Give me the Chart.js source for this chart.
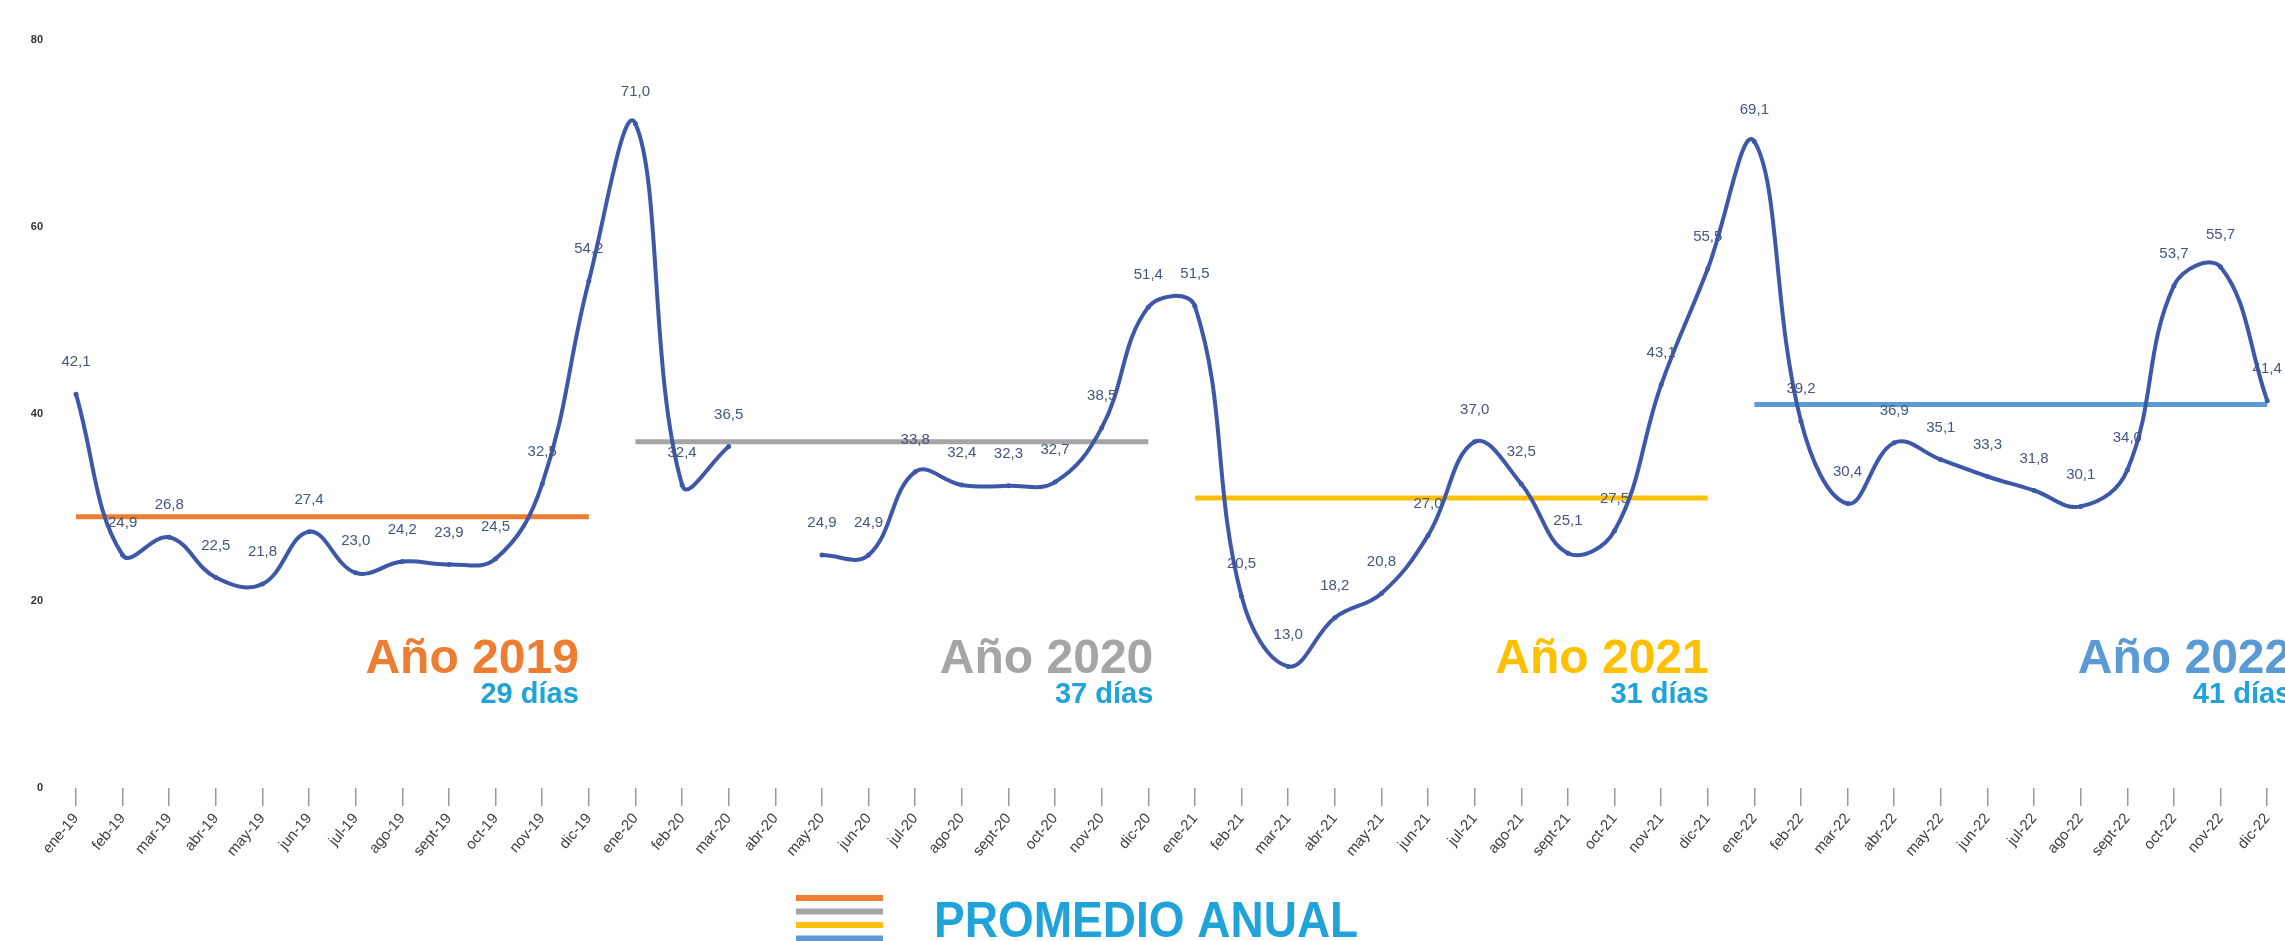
<!DOCTYPE html>
<html>
<head>
<meta charset="utf-8">
<script src="https://cdn.jsdelivr.net/npm/chart.js@4.4.1/dist/chart.umd.min.js"></script>
<style>
  html, body { margin: 0; padding: 0; background: #fff; }
</style>
</head>
<body>
<canvas id="chart" width="2285" height="941"></canvas>
<script>
// categories
const months = [
  "ene-19", "feb-19", "mar-19", "abr-19", "may-19", "jun-19", "jul-19", "ago-19", "sept-19", "oct-19", "nov-19", "dic-19",
  "ene-20", "feb-20", "mar-20", "abr-20", "may-20", "jun-20", "jul-20", "ago-20", "sept-20", "oct-20", "nov-20", "dic-20",
  "ene-21", "feb-21", "mar-21", "abr-21", "may-21", "jun-21", "jul-21", "ago-21", "sept-21", "oct-21", "nov-21", "dic-21",
  "ene-22", "feb-22", "mar-22", "abr-22", "may-22", "jun-22", "jul-22", "ago-22", "sept-22", "oct-22", "nov-22", "dic-22"
];

// monthly values (días)
const dias = [
  42.1, 24.9, 26.8, 22.5, 21.8, 27.4, 23.0, 24.2, 23.9, 24.5, 32.5, 54.2,
  71.0, 32.4, 36.5, null, 24.9, 24.9, 33.8, 32.4, 32.3, 32.7, 38.5, 51.4,
  51.5, 20.5, 13.0, 18.2, 20.8, 27.0, 37.0, 32.5, 25.1, 27.5, 43.1, 55.5,
  69.1, 39.2, 30.4, 36.9, 35.1, 33.3, 31.8, 30.1, 34.0, 53.7, 55.7, 41.4
];

// yearly average (promedio anual)
const years = ["2019", "2020", "2021", "2022"];
const promedios = [29, 37, 31, 41];

const yTicks = [0, 20, 40, 60, 80];

const yearColors = ["#ed7d31", "#a5a5a5", "#ffc000", "#5b9bd5"];
const lineColor = "#3d58a8";
const diasColor = "#1fa3d8";
const fontFamily = "'Liberation Sans', Arial, sans-serif";

const fmt = (v) => v.toFixed(1).replace(".", ",");

// one horizontal segment per year
const avgDatasets = promedios.map((p, k) => ({
  label: "Promedio " + years[k],
  data: months.map((m, i) => (Math.floor(i / 12) === k ? p : null)),
  borderColor: yearColors[k],
  borderWidth: 5,
  pointRadius: 0,
  tension: 0,
  spanGaps: false,
  order: 2,
}));

const valueLabels = {
  id: "valueLabels",
  afterDatasetsDraw(chart) {
    const ctx = chart.ctx;
    const meta = chart.getDatasetMeta(0);
    ctx.save();
    ctx.font = "15px " + fontFamily;
    ctx.fillStyle = "#44557f";
    ctx.textAlign = "center";
    ctx.textBaseline = "middle";
    meta.data.forEach((pt, i) => {
      if (dias[i] == null) return;
      ctx.fillText(fmt(dias[i]), pt.x, pt.y - 32);
    });
    ctx.restore();
  },
};

// year titles + average text, and the legend at the bottom
const yearNotes = {
  id: "yearNotes",
  afterDraw(chart) {
    const ctx = chart.ctx;
    const xs = chart.scales.x;
    const shift = [-10, 5, 1, 24];
    ctx.save();
    ctx.textAlign = "right";
    ctx.textBaseline = "alphabetic";
    years.forEach((y, k) => {
      const xr = xs.getPixelForValue(k * 12 + 11) + shift[k];
      ctx.font = "bold 48px " + fontFamily;
      ctx.fillStyle = yearColors[k];
      ctx.fillText("Año " + y, xr, 673);
      ctx.font = "bold 29px " + fontFamily;
      ctx.fillStyle = diasColor;
      ctx.fillText(promedios[k] + " días", xr, 703);
    });

    // legend
    yearColors.forEach((c, k) => {
      ctx.fillStyle = c;
      ctx.fillRect(796, 895 + k * 13.5, 87, 6);
    });
    ctx.save();
    ctx.translate(934, 937);
    ctx.scale(0.92, 1);
    ctx.textAlign = "left";
    ctx.font = "bold 50px " + fontFamily;
    ctx.fillStyle = diasColor;
    ctx.fillText("PROMEDIO ANUAL", 0, 0);
    ctx.restore();
    ctx.restore();
  },
};

new Chart(document.getElementById("chart"), {
  type: "line",
  data: {
    labels: months,
    datasets: [
      {
        label: "Días",
        data: dias,
        borderColor: lineColor,
        backgroundColor: lineColor,
        borderWidth: 4,
        pointRadius: 2.5,
        pointBorderWidth: 0,
        tension: 0.4,
        spanGaps: false,
        order: 1,
      },
      ...avgDatasets,
    ],
  },
  options: {
    responsive: false,
    devicePixelRatio: 1,
    animation: false,
    layout: { padding: { top: 28, right: 10, left: 0, bottom: 0 } },
    plugins: { legend: { display: false }, tooltip: { enabled: false } },
    scales: {
      x: {
        offset: false,
        grid: { display: true, drawOnChartArea: false, drawTicks: true, tickLength: 18, color: "#9a9a9a", lineWidth: 1.5 },
        border: { display: false },
        ticks: {
          autoSkip: false,
          minRotation: 50,
          maxRotation: 50,
          padding: 4,
          color: "#404040",
          font: { size: 15, family: fontFamily },
        },
        afterFit(s) { s.height = 153; },
      },
      y: {
        min: yTicks[0],
        max: yTicks[yTicks.length - 1],
        afterBuildTicks(s) { s.ticks = yTicks.map((v) => ({ value: v })); },
        grid: { display: false, drawTicks: false },
        border: { display: false },
        ticks: {
          padding: 33,
          color: "#333",
          font: { size: 11, weight: "bold", family: fontFamily },
        },
        afterFit(s) { s.width = 76; },
      },
    },
  },
  plugins: [valueLabels, yearNotes],
});
</script>
</body>
</html>
